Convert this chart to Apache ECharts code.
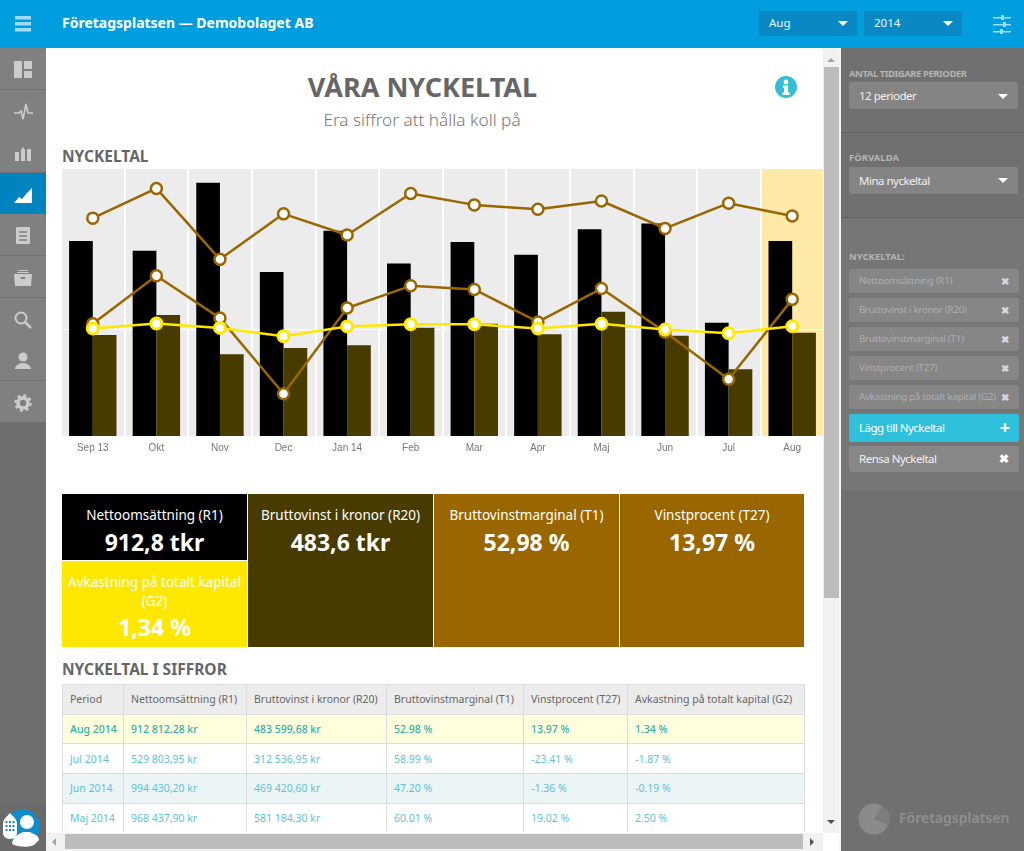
<!DOCTYPE html>
<html lang="sv">
<head>
<meta charset="utf-8">
<title>Företagsplatsen</title>
<script src="https://cdn.jsdelivr.net/npm/echarts@6/dist/echarts.min.js"></script>
<style>
html,body{margin:0;padding:0;width:1024px;height:851px;overflow:hidden;background:#fff;font-family:"Noto Sans","Open Sans",sans-serif}
.box{position:absolute;box-sizing:border-box}
.txt{position:absolute;white-space:nowrap;box-sizing:border-box}
.select{background:#848484;border-radius:2px;color:#f2f2f2;font-size:11.5px;letter-spacing:-.5px;line-height:27px;padding-left:10px}
.tag{position:absolute;left:849px;width:170px;height:24px;background:#868686;border-radius:2px;color:#adadad;font-size:9.8px;letter-spacing:-.3px;line-height:24px;padding-left:10px;box-sizing:border-box;white-space:nowrap}
.tag b{position:absolute;right:10px;top:0;color:#d8d8d8;font-size:10px;letter-spacing:0}
.lbl{color:#b4b4b4;font-size:9.5px;font-weight:700}
.caret{position:absolute;width:0;height:0;border-left:5px solid transparent;border-right:5px solid transparent;border-top:5px solid #fff}
.tile{position:absolute;color:#fff;text-align:center;box-sizing:border-box}
.tile .n{position:absolute;left:0;right:0;top:12px;font-size:13.5px;line-height:19px}
.tile .v{position:absolute;left:0;right:0;top:32px;font-size:23px;font-weight:700;line-height:32px}
table{position:absolute;left:62px;top:684px;width:742px;border-collapse:collapse;table-layout:fixed;font-size:10.5px}
td,th{border:1px solid #dcdcdc;padding:0 0 0 7px;height:28.7px;white-space:nowrap;overflow:hidden;text-align:left;font-weight:400}
th{background:#ececec;color:#666}
td{color:#5cc3d6}
tr.cur td{background:#ffffdd;color:#2fb0a8;font-weight:500}
tr.alt td{background:#ecf5f6}
.side-cell{position:absolute;left:0;width:46px;border-bottom:1px solid #707070}
.side-cell svg{position:absolute;left:14px;top:13px}
</style>
</head>
<body>

<!-- toppen -->
<div class="box" style="left:0;top:0;width:1024px;height:48px;background:#009ddf"></div>
<svg class="box" style="left:15px;top:15px" width="18" height="18"><g fill="#9fdcf5"><rect width="16" height="3.5" y="1"/><rect width="16" height="3.5" y="7"/><rect width="16" height="3.5" y="13"/></g></svg>
<div class="txt" style="left:62px;top:13px;color:#fff;font-size:14px;font-weight:700;line-height:20px">Företagsplatsen — Demobolaget AB</div>
<div class="box" style="left:759px;top:11px;width:98px;height:25px;background:#0a88c4;border-radius:1px"></div>
<div class="txt" style="left:769px;top:14px;color:#e8f6fc;font-size:11.5px;line-height:18px">Aug</div>
<div class="caret" style="left:838px;top:21px"></div>
<div class="box" style="left:864px;top:11px;width:98px;height:25px;background:#0a88c4;border-radius:1px"></div>
<div class="txt" style="left:874px;top:14px;color:#e8f6fc;font-size:11.5px;line-height:18px">2014</div>
<div class="caret" style="left:943px;top:21px"></div>
<svg class="box" style="left:993px;top:14px" width="20" height="21"><g fill="#9fdcf5"><rect y="3" width="18" height="1.5"/><rect y="10" width="18" height="1.5"/><rect y="17" width="18" height="1.5"/><rect x="8" y="1" width="3" height="5"/><rect x="10" y="8" width="3" height="5"/><rect x="7" y="15" width="3" height="5"/></g></svg>

<!-- vänstermeny -->
<div class="box" id="sideMenu" style="left:0;top:48px;width:46px;height:803px;background:#6e6e6e"></div>
<div class="box" style="left:0;top:804px;width:46px;height:47px;background:#6a6a6a"></div>
<svg class="box" style="left:0;top:804px" width="46" height="47">
<circle cx="22.500" cy="23" r="17.500" fill="#0f8ccb"/>
<circle cx="27" cy="18" r="7" fill="#fff"/><path d="M12 40c1-9 8-10 11-12h7c3 2 9 3 9 8l-5 5c-6 3-16 2-22-1z" fill="#fff"/>
<path d="M10 9c-2 3-7 5-7 11v9c0 3 3 6 7 6s7-3 7-6v-9c0-6-5-8-7-11z" fill="#fff"/>
<g fill="#0f8ccb"><rect x="5.500" y="17" width="2" height="2"/><rect x="9" y="17" width="2" height="2"/><rect x="12.500" y="17" width="2" height="2"/><rect x="5.500" y="21" width="2" height="2"/><rect x="9" y="21" width="2" height="2"/><rect x="12.500" y="21" width="2" height="2"/><rect x="5.500" y="25" width="2" height="2"/><rect x="9" y="25" width="2" height="2"/><rect x="12.500" y="25" width="2" height="2"/></g>
</svg>

<!-- högerpanel -->
<div class="box" style="left:839px;top:48px;width:2px;height:803px;background:#f6f6f6"></div>
<div class="box" style="left:841px;top:48px;width:183px;height:803px;background:#707070"></div>
<div class="box" style="left:841px;top:48px;width:183px;height:85px;border-bottom:1px solid #626262"></div>
<div class="box" style="left:841px;top:133px;width:183px;height:85px;border-bottom:1px solid #626262"></div>
<div class="box" style="left:841px;top:218px;width:183px;height:272px;background:#767676;border-bottom:0"></div>
<div class="txt lbl" style="left:849px;top:67px;letter-spacing:-.45px">ANTAL TIDIGARE PERIODER</div>
<div class="box select" style="left:849px;top:82px;width:169px;height:27px">12 perioder</div>
<div class="caret" style="left:998px;top:94px"></div>
<div class="txt lbl" style="left:849px;top:151px">FÖRVALDA</div>
<div class="box select" style="left:849px;top:167px;width:169px;height:27px">Mina nyckeltal</div>
<div class="caret" style="left:998px;top:178px"></div>
<div class="txt lbl" style="left:849px;top:250px">NYCKELTAL:</div>
<div id="tagList"></div>
<div class="tag" style="top:414px;height:28px;background:#2fc0dc;color:#fff;font-size:11.500px;letter-spacing:-.5px;line-height:27px">Lägg till Nyckeltal<b style="color:#fff;font-size:18px;line-height:26px;right:9px">+</b></div>
<div class="tag" style="top:446px;height:26px;background:#878787;color:#f2f2f2;font-size:11.500px;letter-spacing:-.5px;line-height:26px">Rensa Nyckeltal<b style="color:#fff;font-size:12px">✖</b></div>
<svg class="box" style="left:858px;top:803px" width="34" height="32"><circle cx="16" cy="16" r="15.500" fill="#8a8a8a"/><path d="M16 16L24 3A15.500 15.500 0 0 1 30 22z" fill="#7c7c7c"/></svg>
<div class="txt" style="left:899px;top:808px;color:#8f8f8f;font-size:14px;font-weight:600;line-height:20px">Företagsplatsen</div>

<!-- rubriker -->
<div class="txt" style="left:46px;width:752px;top:70px;text-align:center;color:#666;font-size:27px;font-weight:700;line-height:34px;padding-left:1px">VÅRA NYCKELTAL</div>
<div class="txt" style="left:46px;width:752px;top:108px;text-align:center;color:#777;font-size:17.200px;font-weight:300;line-height:24px">Era siffror att hålla koll på</div>
<svg class="box" style="left:775px;top:76px" width="22" height="22"><circle cx="11" cy="11" r="11" fill="#34bdd4"/><circle cx="11" cy="6" r="2.400" fill="#fff"/><path d="M8 9.500h5v7h1.500v2.500h-7v-2.500h1.500v-4.500h-1z" fill="#fff"/></svg>
<div class="txt" style="left:62px;top:146px;color:#666;font-size:15.500px;font-weight:700;line-height:20px">NYCKELTAL</div>

<!-- diagrammet, banden är lite bredare än rutan så kanterna skärs av -->
<div id="chart" class="box" style="left:61px;top:169px;width:763px;height:295px;clip-path:inset(0 1px 0 1px)"></div>

<!-- rutor med senaste värdena -->
<div id="tiles"></div>

<div class="txt" style="left:62px;top:659px;color:#666;font-size:15.500px;font-weight:700;line-height:20px">NYCKELTAL I SIFFROR</div>
<table id="tbl"></table>
<div class="box" style="left:46px;top:832px;width:777px;height:19px;background:#fff"></div>

<!-- rullningslister -->
<div class="box" style="left:823px;top:48px;width:16px;height:785px;background:#f1f1f1"></div>
<div class="box" style="left:824px;top:67px;width:15px;height:531px;background:#bcbcbc"></div>
<div class="box" style="left:827px;top:58px;width:0;height:0;border-left:4px solid transparent;border-right:4px solid transparent;border-bottom:4px solid #a5a5a5"></div>
<div class="box" style="left:827px;top:820px;width:0;height:0;border-left:4px solid transparent;border-right:4px solid transparent;border-top:4px solid #505050"></div>
<div class="box" style="left:46px;top:833px;width:777px;height:18px;background:#f1f1f1"></div>
<div class="box" style="left:65px;top:834px;width:738px;height:15px;background:#bcbcbc"></div>
<div class="box" style="left:52px;top:838px;width:0;height:0;border-top:4px solid transparent;border-bottom:4px solid transparent;border-right:4px solid #a5a5a5"></div>
<div class="box" style="left:810px;top:838px;width:0;height:0;border-top:4px solid transparent;border-bottom:4px solid transparent;border-left:4px solid #505050"></div>

<script>
// perioder
var categories = ['Sep 13','Okt','Nov','Dec','Jan 14','Feb','Mar','Apr','Maj','Jun','Jul','Aug'];

// kronor (de fyra sista från tabellen)
var nettoValues = [913000,867600,1186000,768000,961000,807000,908000,849000,968438,994430,529804,912812];
var bruttoValues = [473000,566500,382500,412000,424700,507000,526000,476000,581184,469421,312537,483600];

// procent
var marginalValues = [52.0,65.9,32.7,54.0,44.1,63.5,58.2,56.2,60.01,47.20,58.99,52.98];
var vinstValues = [2.5,25.0,5.2,-30.2,9.9,20.3,18.6,3.4,19.02,-1.36,-23.41,13.97];
var avkastningValues = [0.3,2.7,0.6,-3.3,1.3,2.3,2.3,0.3,2.50,-0.19,-1.87,1.34];

var tagNames = ['Nettoomsättning (R1)','Bruttovinst i kronor (R20)','Bruttovinstmarginal (T1)','Vinstprocent (T27)','Avkastning på totalt kapital (G2)'];
var tileValues = ['912,8 tkr','483,6 tkr','52,98 %','13,97 %','1,34 %'];

var tableHead = ['Period','Nettoomsättning (R1)','Bruttovinst i kronor (R20)','Bruttovinstmarginal (T1)','Vinstprocent (T27)','Avkastning på totalt kapital (G2)'];
var tableRows = [
	['Aug 2014','912 812,28 kr','483 599,68 kr','52.98 %','13.97 %','1.34 %'],
	['Jul 2014','529 803,95 kr','312 536,95 kr','58.99 %','-23.41 %','-1.87 %'],
	['Jun 2014','994 430,20 kr','469 420,60 kr','47.20 %','-1.36 %','-0.19 %'],
	['Maj 2014','968 437,90 kr','581 184,30 kr','60.01 %','19.02 %','2.50 %']
];

var BLACK = '#000000', OLIVE = '#473b00', BROWN = '#996600', YELLOW = '#ffe800';

// vänstermenyns ikoner
var sideIcons = [
	'<rect x="0" y="0" width="8" height="17" fill="#ccc"/><rect x="10" y="0" width="8" height="8" fill="#ccc"/><rect x="10" y="10" width="8" height="7" fill="#ccc"/>',
	'<path d="M0 10h5l2-2 2 8 3-15 2 9h5" fill="none" stroke="#ccc" stroke-width="1.600"/>',
	'<path d="M1 17V8h4v9zM7 17V6l2-3 2 3v11zM13 17V5h4v12z" fill="#ccc"/>',
	'<path d="M0 17l5-6 3 2 5-6 5-5v15z" fill="#fff"/>',
	'<rect x="2" y="0" width="14" height="17" rx="1" fill="#ccc"/><path d="M5 5h8M5 9h8M5 13h8" stroke="#808080" stroke-width="1.500"/>',
	'<path d="M0 5h18l-1 12H1z" fill="#ccc"/><path d="M3 3h12v1H3zM4 1h10v1H4z" fill="#ccc"/><rect x="7" y="8" width="4" height="2" fill="#808080"/>',
	'<circle cx="7" cy="7" r="5.500" fill="none" stroke="#ccc" stroke-width="2"/><path d="M11 11l6 6" stroke="#ccc" stroke-width="2.500"/>',
	'<circle cx="9" cy="5" r="4.500" fill="#ccc"/><path d="M1 17c0-4 5-5 6-6h4c1 1 6 2 6 6z" fill="#ccc"/>',
	'<circle cx="9" cy="9" r="5" fill="none" stroke="#ccc" stroke-width="3.500"/><circle cx="9" cy="9" r="7.500" fill="none" stroke="#ccc" stroke-width="2.500" stroke-dasharray="3 2.900"/>'
];
var sideHtml = '';
for(var i=0;i<sideIcons.length;i++){
	var bg = i==3 ? '#0083bf' : '#808080';
	sideHtml += '<div class="side-cell" style="top:'+(48+i*41.6)+'px;height:41px;background:'+bg+'"><svg width="20" height="20">'+sideIcons[i]+'</svg></div>';
}
document.getElementById('sideMenu').insertAdjacentHTML('afterend', sideHtml);

// högerpanelens etiketter
var tagHtml = '';
for(var i=0;i<tagNames.length;i++){
	tagHtml += '<div class="tag" style="top:'+(269+i*29)+'px">'+tagNames[i]+'<b>✖</b></div>';
}
document.getElementById('tagList').innerHTML = tagHtml;

// rutorna under diagrammet
var tileBoxes = [[62,494,185,66,BLACK],[248,494,185,153,OLIVE],[434,494,185,153,BROWN],[620,494,184,153,BROWN],[62,561,185,86,YELLOW]];
var tilesHtml = '';
for(var i=0;i<tileBoxes.length;i++){
	var b = tileBoxes[i];
	var style = 'left:'+b[0]+'px;top:'+b[1]+'px;width:'+b[2]+'px;height:'+b[3]+'px;background:'+b[4];
	var nm = tagNames[i];
	var vStyle = '';
	if(i==4){
		nm = 'Avkastning på totalt kapital<br>(G2)';
		vStyle = ' style="top:50px"';
	}
	tilesHtml += '<div class="tile" style="'+style+'"><div class="n">'+nm+'</div><div class="v"'+vStyle+'>'+tileValues[i]+'</div></div>';
}
document.getElementById('tiles').innerHTML = tilesHtml;

// tabellen
var colWidths = [61,123,140,137,104,177];
var tblHtml = '<colgroup>';
for(var i=0;i<colWidths.length;i++){
	tblHtml += '<col style="width:'+colWidths[i]+'px">';
}
tblHtml += '</colgroup><tr>';
for(var i=0;i<tableHead.length;i++){
	tblHtml += '<th>'+tableHead[i]+'</th>';
}
tblHtml += '</tr>';
for(var r=0;r<tableRows.length;r++){
	var cls = r==0 ? 'cur' : (r==2 ? 'alt' : '');
	tblHtml += '<tr class="'+cls+'">';
	for(var i=0;i<tableRows[r].length;i++){
		tblHtml += '<td>'+tableRows[r][i]+'</td>';
	}
	tblHtml += '</tr>';
}
document.getElementById('tbl').innerHTML = tblHtml;

// bakgrundsband, sista perioden markerad
var bandColors = [];
for(var i=0;i<categories.length;i++){
	bandColors.push(i==categories.length-1 ? '#ffe9a8' : '#ececec');
}

function lineSeries(name, values, color, z, border){
	return {
		name: name,
		type: 'line',
		yAxisIndex: 1,
		data: values,
		z: z,
		symbol: 'circle',
		symbolSize: 11,
		showSymbol: true,
		lineStyle: {color: color, width: 2.5},
		itemStyle: {color: '#ffffff', borderColor: color, borderWidth: border}
	};
}

var myChart = echarts.init(document.getElementById('chart'));
var avkastningSeries = lineSeries(tagNames[4], avkastningValues, YELLOW, 6, 3);
avkastningSeries.markLine = {
	silent: true,
	z: 1,
	symbol: 'none',
	label: {show: false},
	lineStyle: {color: '#ffffff', width: 1, type: 'solid'},
	data: [{yAxis: 0}]
};
var option = {
	animation: false,
	grid: {left: 0, right: 0, top: 0, height: 267},
	xAxis: {
		type: 'category',
		data: categories,
		axisLine: {show: false},
		axisTick: {show: false},
		axisLabel: {color: '#777', fontSize: 10, fontFamily: '"Liberation Sans"', margin: 7},
		splitLine: {show: true, lineStyle: {color: '#ffffff', width: 2}},
		splitArea: {show: true, areaStyle: {color: bandColors}}
	},
	yAxis: [
		{type: 'value', min: 0, max: 1250000, interval: 250000, show: false, splitLine: {show: false}},
		{type: 'value', min: -50, max: 75, interval: 25, show: false, splitLine: {show: false}}
	],
	series: [
		{name: tagNames[0], type: 'bar', data: nettoValues, barWidth: 23.7, barGap: 0, itemStyle: {color: BLACK}, z: 2},
		{name: tagNames[1], type: 'bar', data: bruttoValues, barWidth: 23.7, barGap: 0, itemStyle: {color: OLIVE}, z: 2},
		lineSeries(tagNames[2], marginalValues, BROWN, 4, 2.5),
		lineSeries(tagNames[3], vinstValues, BROWN, 5, 2.5),
		avkastningSeries
	]
};
myChart.setOption(option);
</script>
</body>
</html>
